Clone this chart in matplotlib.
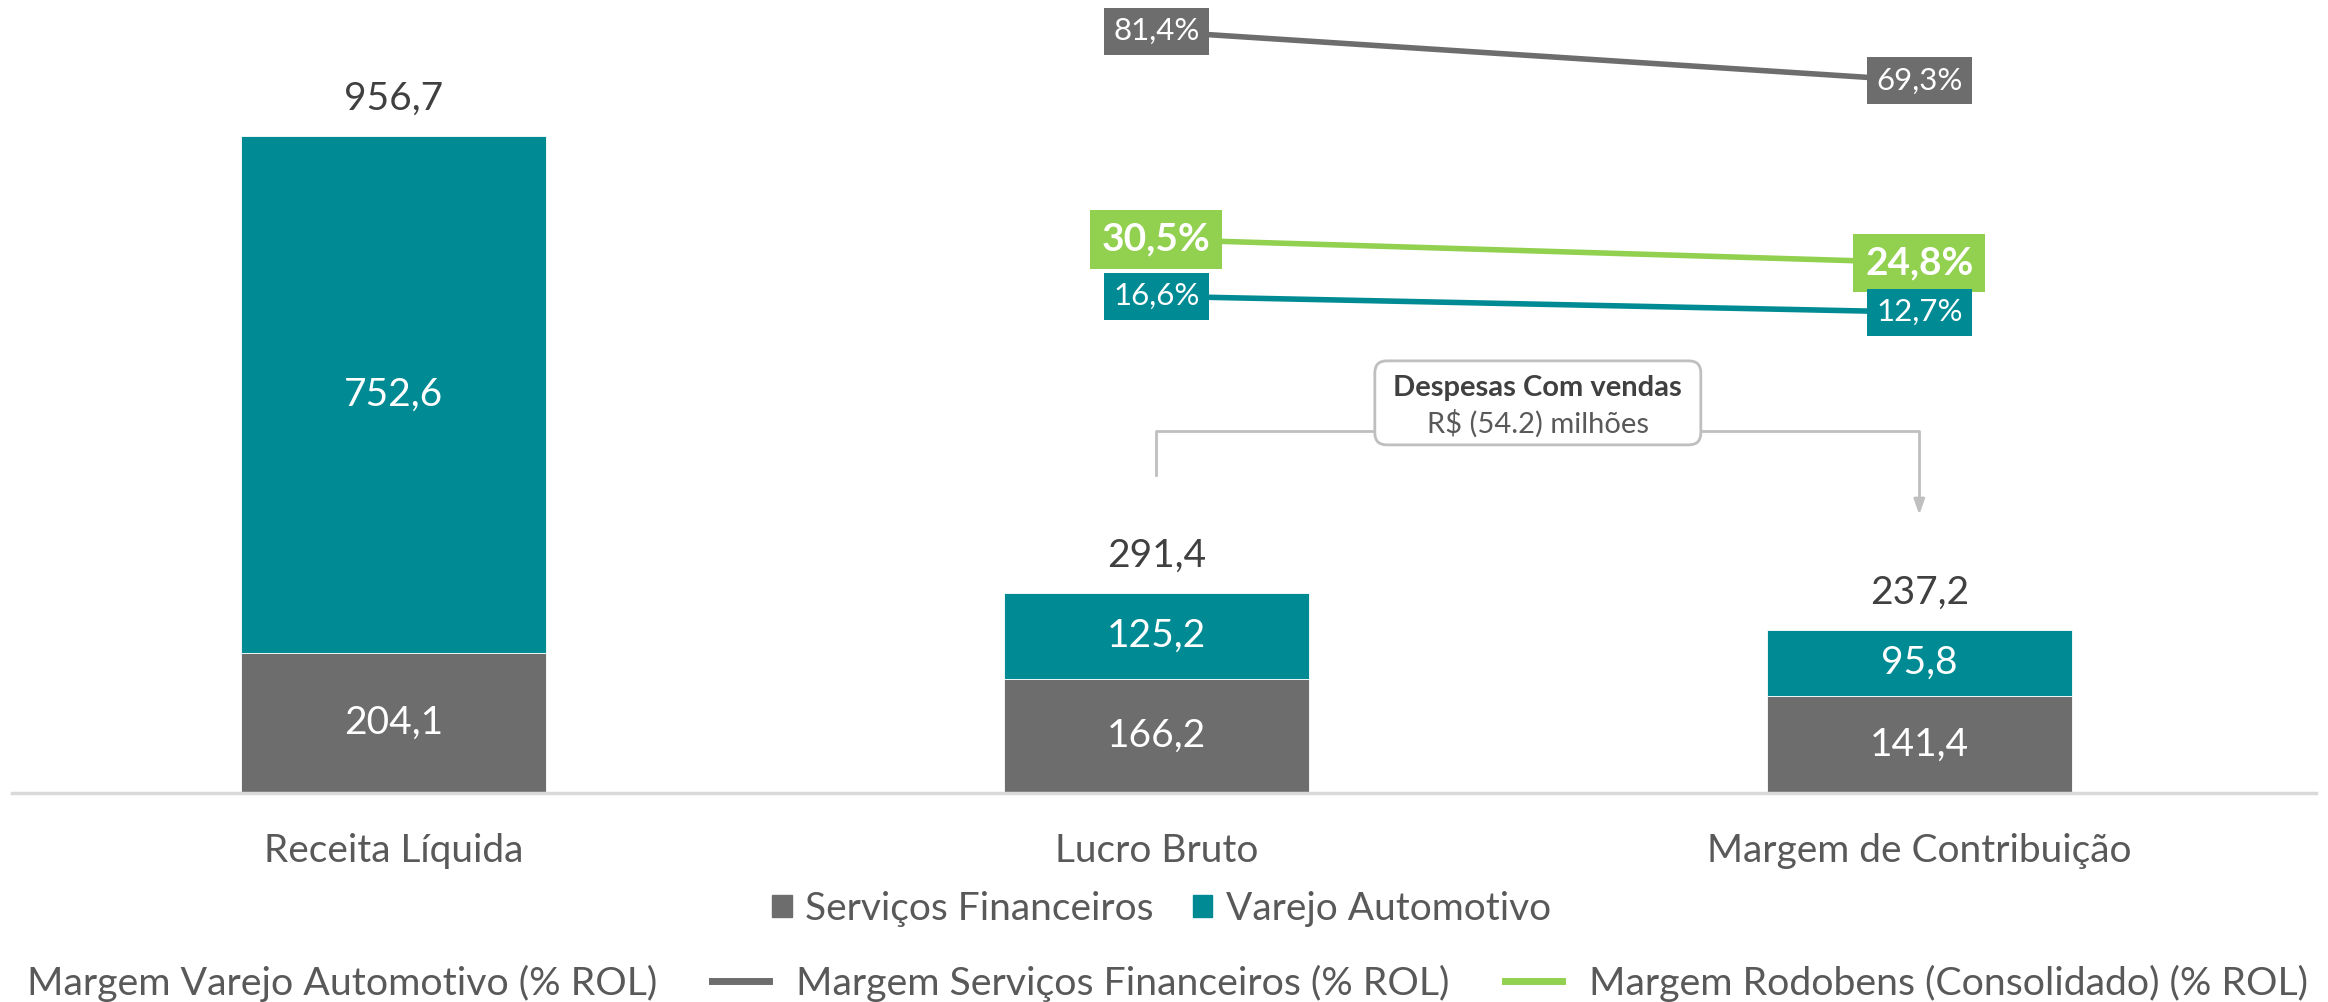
import matplotlib
matplotlib.use('Agg')
import matplotlib.pyplot as plt
from matplotlib.patches import FancyBboxPatch, Patch
from matplotlib.lines import Line2D
from matplotlib.transforms import ScaledTranslation

plt.rcParams['font.family'] = ['Lato', 'DejaVu Sans']

# Data
categories = ['Receita Líquida', 'Lucro Bruto', 'Margem de Contribuição']
servicos = [204.1, 166.2, 141.4]
varejo = [752.6, 125.2, 95.8]
totais = [956.7, 291.4, 237.2]

margem_cats = ['Lucro Bruto', 'Margem de Contribuição']
margem_varejo = [16.6, 12.7]
margem_servicos = [81.4, 69.3]
margem_rodobens = [30.5, 24.8]

despesas_titulo = 'Despesas Com vendas'
despesas_valor = r'R\$ (54.2) milhões'

GRAY = '#6D6D6D'
TEAL = '#008B94'
GREEN = '#92D050'
TXT = '#595959'


def fmt(v):
    return f'{v:.1f}'.replace('.', ',')


fig = plt.figure(figsize=[23.28, 10.02], dpi=100)
ax = fig.add_axes([12 / 2328, 209 / 1002, 2304 / 2328, 783 / 1002])
x = list(range(len(categories)))

ax.bar(x, servicos, width=0.4, color=GRAY, edgecolor='white', linewidth=0.6, zorder=2)
ax.bar(x, varejo, width=0.4, bottom=servicos, color=TEAL, edgecolor='white', linewidth=0.6, zorder=2)

for i in x:
    ax.text(i, servicos[i] / 2, fmt(servicos[i]), ha='center', va='center', color='white', fontsize=28)
    ax.text(i, servicos[i] + varejo[i] / 2, fmt(varejo[i]), ha='center', va='center', color='white', fontsize=28)
    ax.annotate(fmt(totais[i]), (i, totais[i]), xytext=(0, 14), textcoords='offset points',
                ha='center', va='bottom', color='#404040', fontsize=28)

ax.set_xlim(-0.5, 2.52)
ax.set_ylim(0, 1140)
ax.set_xticks(x)
ax.set_xticklabels(categories, fontsize=28, color=TXT)
ax.tick_params(axis='x', length=0, pad=29)
ax.set_yticks([])
for s in ['top', 'right', 'left']:
    ax.spines[s].set_visible(False)
ax.spines['bottom'].set_color('#D9D9D9')
ax.spines['bottom'].set_linewidth(2.5)

# Despesas annotation
y_h = 527
ax.plot([1, 1, 2, 2], [totais[1] + 172, y_h, y_h, totais[2] + 190], color='#BFBFBF', lw=2, zorder=3)
ax.annotate('', xy=(2, totais[2] + 164), xytext=(2, totais[2] + 195),
            arrowprops=dict(arrowstyle='-|>,head_length=0.9,head_width=0.32', color='#BFBFBF', lw=2), zorder=3)
box_tr = fig.dpi_scale_trans + ScaledTranslation(1.5, 568, ax.transData)
ax.add_patch(FancyBboxPatch((-1.63, -0.42), 3.26, 0.84, boxstyle='round,pad=0,rounding_size=0.12',
                            transform=box_tr, facecolor='white', edgecolor='#BFBFBF', lw=2, zorder=4))
ax.text(0, 0.15, despesas_titulo, transform=box_tr, ha='center', va='center', fontsize=21,
        fontweight='bold', color='#404040', zorder=5)
ax.text(0, -0.21, despesas_valor, transform=box_tr, ha='center', va='center', fontsize=21,
        color=TXT, zorder=5)

# Margin lines
ax2 = ax.twinx()
ax2.set_ylim(-104.9, 86.6)
ax2.axis('off')
mx = [categories.index(c) for c in margem_cats]
for vals, col, bold, fs in [(margem_servicos, GRAY, False, 22.5),
                            (margem_rodobens, GREEN, True, 28),
                            (margem_varejo, TEAL, False, 22.5)]:
    ax2.plot(mx, vals, color=col, lw=4, zorder=2)
    for xi, v in zip(mx, vals):
        ax2.text(xi, v, fmt(v) + '%', ha='center', va='center', color='white', fontsize=fs,
                 fontweight='bold' if bold else 'normal', zorder=3,
                 bbox=dict(boxstyle='square,pad=0.3', fc=col, ec='none'))

# Legends
fig.legend([Patch(color=GRAY), Patch(color=TEAL)], ['Serviços Financeiros', 'Varejo Automotivo'],
           loc='center', bbox_to_anchor=(0.499, 1 - 909 / 1002), ncol=2, frameon=False,
           fontsize=28, handlelength=0.5, handleheight=0.5, handletextpad=0.35,
           columnspacing=1.0, labelcolor=TXT, borderpad=0)
fig.legend([Line2D([], [], color=TEAL, lw=5), Line2D([], [], color=GRAY, lw=5),
            Line2D([], [], color=GREEN, lw=5)],
           ['Margem Varejo Automotivo (% ROL)', 'Margem Serviços Financeiros (% ROL)',
            'Margem Rodobens (Consolidado) (% ROL)'],
           loc='center right', bbox_to_anchor=(1.0, 1 - 983 / 1002), ncol=3, frameon=False,
           fontsize=28.3, handlelength=1.45, handletextpad=0.7, columnspacing=1.4,
           labelcolor=TXT, borderpad=0)

fig.savefig('out.png', dpi=100)
